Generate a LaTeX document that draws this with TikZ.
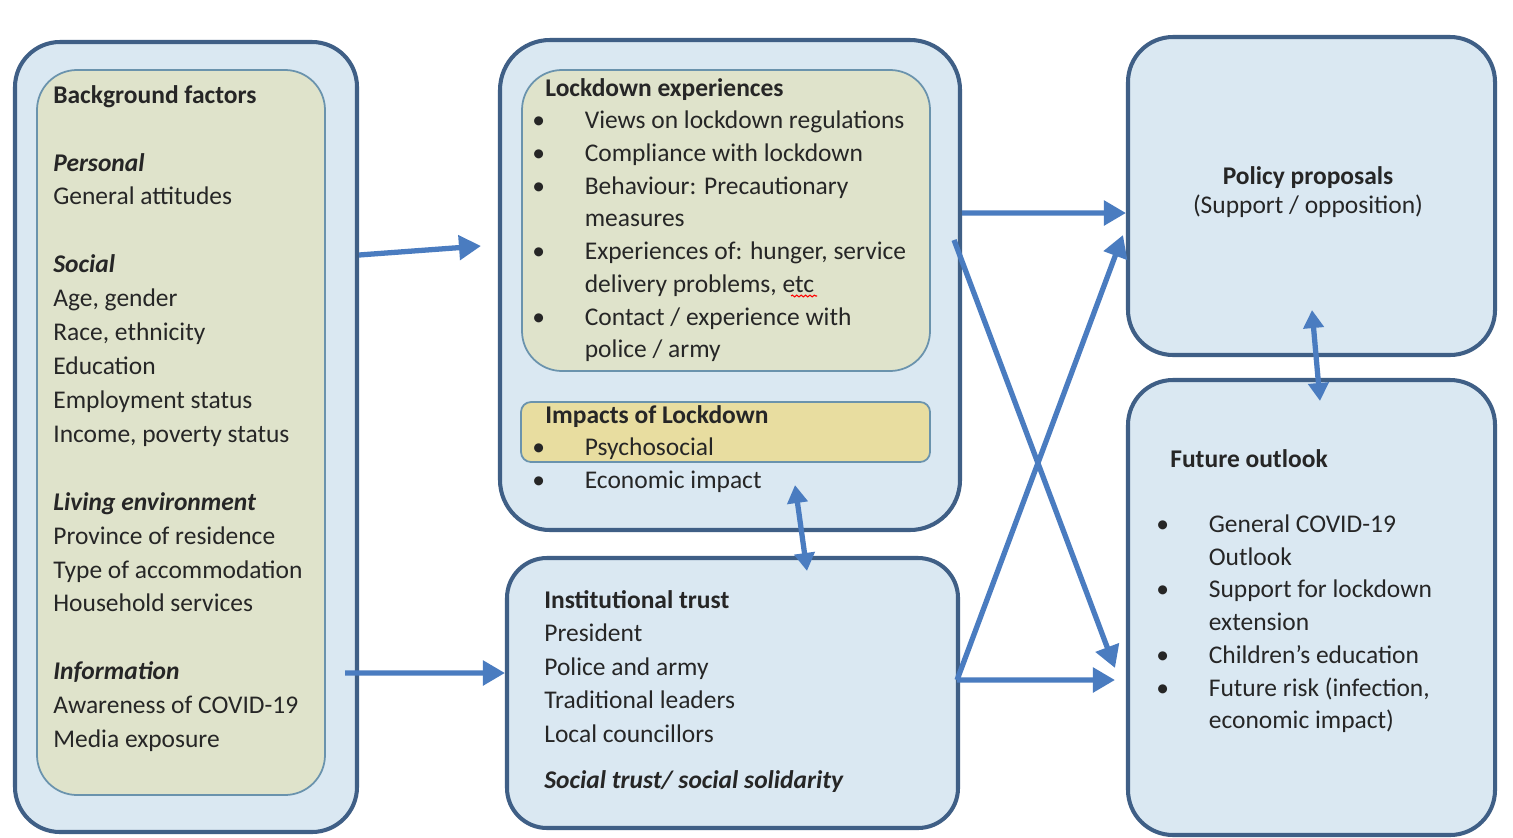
\documentclass[tikz,border=0pt]{standalone}
\usepackage{fontspec}
\setmainfont{Carlito}
\usetikzlibrary{arrows.meta,decorations.pathmorphing}

\definecolor{boxfill}{HTML}{DAE8F2}
\definecolor{boxline}{HTML}{3F5F86}
\definecolor{olivefill}{HTML}{DFE3CB}
\definecolor{innerline}{HTML}{6A93AD}
\definecolor{impactfill}{HTML}{E8DDA0}
\definecolor{arrowblue}{HTML}{4A7CC0}

\newcommand{\bul}{\makebox[1.05cm][l]{\textbullet}}
\newcommand{\ind}{\hspace*{1.05cm}}

\begin{document}
\begin{tikzpicture}[
          outer/.style={draw=boxline, line width=2.3pt, fill=boxfill, rounded corners=0.9cm},
          inner/.style={draw=innerline, line width=1pt, fill=olivefill, rounded corners=0.8cm},
          impactbox/.style={draw=innerline, line width=1pt, fill=impactfill, rounded corners=0.2cm},
          txt/.style={inner sep=0pt, align=left, text=black!85},
          arr/.style={draw=arrowblue, line width=3pt, -{Triangle[length=0.44cm,width=0.48cm]}},
          dblarr/.style={draw=arrowblue, line width=3pt, {Triangle[length=0.36cm,width=0.4cm]}-{Triangle[length=0.36cm,width=0.4cm]}}
        ]
        \useasboundingbox[fill=white] (0,0) rectangle (30.26,-16.74);

        % Left column (background factors)
        \node[outer, minimum width=6.84cm, minimum height=15.8cm] (bg) at (3.72,-8.74) {};
        \node[inner, minimum width=5.76cm, minimum height=14.5cm] (bgin) at (3.62,-8.65) {};
        \node[txt, anchor=north west, font=\fontsize{14.5}{19.3}\selectfont] (bgtext) at (1.06,-1.7)
          {\textbf{Background factors}\\[19.3pt]
           \textbf{\textit{Personal}}\\
           General attitudes\\[19.3pt]
           \textbf{\textit{Social}}\\
           Age, gender\\
           Race, ethnicity\\
           Education\\
           Employment status\\
           Income, poverty status\\[19.3pt]
           \textbf{\textit{Living environment}}\\
           Province of residence\\
           Type of accommodation\\
           Household services\\[19.3pt]
           \textbf{\textit{Information}}\\
           Awareness of COVID-19\\
           Media exposure};

        % Middle column, top (lockdown)
        \node[outer, rounded corners=1cm, minimum width=9.2cm, minimum height=9.8cm] (lock) at (14.6,-5.7) {};
        \node[inner, minimum width=8.16cm, minimum height=6.02cm] (lockin) at (14.52,-4.41) {};
        \node[impactbox, minimum width=8.18cm, minimum height=1.2cm] (impact) at (14.51,-8.64) {};
        \node[txt, anchor=north west, font=\fontsize{14.5}{18.6}\selectfont] (locktext) at (10.64,-1.56)
          {\hspace*{0.26cm}\textbf{Lockdown experiences}\\
           \bul Views on lockdown regulations\\
           \bul Compliance with lockdown\\
           \bul Behaviour: Precautionary\\
           \ind measures\\
           \bul Experiences of: hunger, service\\
           \ind delivery problems, etc\\
           \bul Contact / experience with\\
           \ind police / army\\[18.6pt]
           \hspace*{0.26cm}\textbf{Impacts of Lockdown}\\
           \bul Psychosocial\\
           \bul Economic impact};
        \draw[red, line width=0.6pt, decorate, decoration={snake, amplitude=0.5pt, segment length=2.5pt}]
          (15.82,-5.92) -- (16.34,-5.92);

        % Middle column, bottom (trust)
        \node[outer, rounded corners=0.8cm, minimum width=9.02cm, minimum height=5.4cm] (trust) at (14.65,-13.86) {};
        \node[txt, anchor=north west, font=\fontsize{14.5}{19.1}\selectfont] (trusttext) at (10.88,-11.8)
          {\textbf{Institutional trust}\\
           President\\
           Police and army\\
           Traditional leaders\\
           Local councillors\\[6.8pt]
           \textbf{\textit{Social trust/ social solidarity}}};

        % Right column
        \node[outer, minimum width=7.34cm, minimum height=6.36cm] (policy) at (26.23,-3.92) {};
        \node[txt, align=center, font=\fontsize{14.5}{16.5}\selectfont] (policytext) at (26.16,-3.84)
          {\textbf{Policy proposals}\\(Support / opposition)};

        \node[outer, minimum width=7.34cm, minimum height=9.1cm] (future) at (26.23,-12.15) {};
        \node[txt, anchor=north west, font=\fontsize{14.5}{18.6}\selectfont] (futuretext) at (23.12,-8.98)
          {\hspace*{0.28cm}\textbf{Future outlook}\\[18.6pt]
           \bul General COVID-19\\
           \ind Outlook\\
           \bul Support for lockdown\\
           \ind extension\\
           \bul Children’s education\\
           \bul Future risk (infection,\\
           \ind economic impact)};

        % Arrows
        \draw[arr] ([yshift=3.64cm]bg.east) -- ([xshift=-0.34cm,yshift=0.78cm]lock.west);
        \draw[arr] ([xshift=-0.28cm,yshift=-4.72cm]bg.east) -- ([yshift=0.4cm]trust.west);
        \draw[arr] ([yshift=1.44cm]lock.east) -- ([yshift=-0.34cm]policy.west);
        \draw[arr] ([xshift=-0.16cm,yshift=0.9cm]lock.east) -- ([xshift=-0.22cm,yshift=-1.21cm]future.west);
        \draw[arr] ([xshift=-0.06cm,yshift=0.26cm]trust.east) -- ([xshift=-0.06cm,yshift=-0.78cm]policy.west);
        \draw[arr] ([xshift=-0.06cm,yshift=0.26cm]trust.east) -- ([xshift=-0.22cm,yshift=-1.45cm]future.west);
        \draw[dblarr] ([xshift=1.3cm,yshift=0.94cm]lock.south) -- ([xshift=1.49cm,yshift=-0.3cm]trust.north);
        \draw[dblarr] ([xshift=0.01cm,yshift=0.94cm]policy.south) -- ([xshift=0.17cm,yshift=-0.46cm]future.north);

      \end{tikzpicture}
\end{document}
